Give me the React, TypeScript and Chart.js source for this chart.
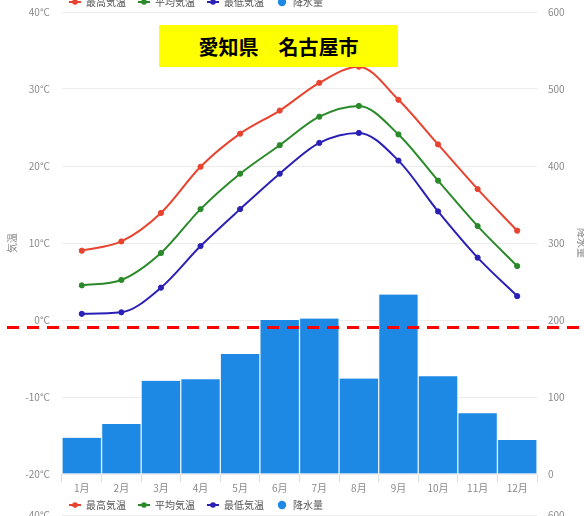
import React, { useEffect, useRef } from "react";
import { Chart, registerables } from "chart.js";

Chart.register(...registerables);

// Monthly climate normals
const months = ["1月", "2月", "3月", "4月", "5月", "6月", "7月", "8月", "9月", "10月", "11月", "12月"];
const highTemp = [9.0, 10.2, 13.9, 19.9, 24.2, 27.2, 30.8, 32.9, 28.6, 22.8, 17.0, 11.6];
const meanTemp = [4.5, 5.2, 8.7, 14.4, 19.0, 22.7, 26.4, 27.8, 24.1, 18.1, 12.2, 7.0];
const lowTemp = [0.8, 1.0, 4.2, 9.6, 14.4, 19.0, 23.0, 24.3, 20.7, 14.1, 8.1, 3.1];
const precipitation = [47, 65, 121, 123, 156, 200, 202, 124, 233, 127, 79, 44];

const seriesNames = ["最高気温", "平均気温", "最低気温", "降水量"];
const tempAxisTitle = "気温";
const rainAxisTitle = "降水量";
const tempRange = [-20, 40, 10];
const rainRange = [0, 600, 100];
const heading = "愛知県　名古屋市";

const COLORS = {
  high: "#e8432f",
  mean: "#2a8a2a",
  low: "#2b20b5",
  rain: "#1e88e5",
  tick: "#8a8a8a",
  grid: "#ececec",
  legend: "#555555",
};

const CANVAS_W = 592;
const CANVAS_H = 516;
const PANEL_STEP = 503;
const FONT = "'Noto Sans CJK JP', 'Noto Sans', sans-serif";

function lineDotIcon(color: string) {
  const c = document.createElement("canvas");
  c.width = 12;
  c.height = 8;
  const ctx = c.getContext("2d")!;
  ctx.strokeStyle = color;
  ctx.lineWidth = 2;
  ctx.beginPath();
  ctx.moveTo(0, 4);
  ctx.lineTo(12, 4);
  ctx.stroke();
  ctx.fillStyle = color;
  ctx.beginPath();
  ctx.arc(6, 4, 2.8, 0, Math.PI * 2);
  ctx.fill();
  return c;
}

function dotIcon(color: string) {
  const c = document.createElement("canvas");
  c.width = 10;
  c.height = 10;
  const ctx = c.getContext("2d")!;
  ctx.fillStyle = color;
  ctx.beginPath();
  ctx.arc(5, 5, 4.2, 0, Math.PI * 2);
  ctx.fill();
  return c;
}

// Puts the legend just under the month labels, starting near the plot's left edge
const legendPlacement = {
  id: "legendPlacement",
  afterLayout(chart: any) {
    const lg = chart.legend;
    if (!lg) return;
    const w = lg.width;
    const h = 32;
    lg.left = 57;
    lg.right = 57 + w;
    lg.top = chart.chartArea.bottom + 14;
    lg.bottom = lg.top + h;
  },
};

function buildConfig(): any {
  const icons = [lineDotIcon(COLORS.high), lineDotIcon(COLORS.mean), lineDotIcon(COLORS.low), dotIcon(COLORS.rain)];
  const lineSet = (label: string, data: number[], color: string, order: number) => ({
    type: "line",
    label,
    data,
    yAxisID: "y",
    borderColor: color,
    backgroundColor: color,
    pointBackgroundColor: color,
    pointBorderColor: color,
    borderWidth: 2,
    pointRadius: 2.6,
    pointBorderWidth: 1,
    cubicInterpolationMode: "monotone",
    fill: false,
    order,
  });
  return {
    type: "bar",
    data: {
      labels: months,
      datasets: [
        lineSet(seriesNames[0], highTemp, COLORS.high, 1),
        lineSet(seriesNames[1], meanTemp, COLORS.mean, 2),
        lineSet(seriesNames[2], lowTemp, COLORS.low, 3),
        {
          type: "bar",
          label: seriesNames[3],
          data: precipitation,
          yAxisID: "y1",
          backgroundColor: COLORS.rain,
          borderColor: "rgba(225,238,252,0.9)",
          borderWidth: { left: 1, right: 1, top: 0, bottom: 0 },
          categoryPercentage: 1,
          barPercentage: 1,
          order: 10,
        },
      ],
    },
    options: {
      responsive: false,
      animation: false,
      devicePixelRatio: 1,
      layout: { padding: { top: 12, bottom: 0, left: 0, right: 0 } },
      plugins: {
        tooltip: { enabled: false },
        legend: {
          position: "bottom",
          align: "start",
          maxHeight: 10,
          labels: {
            usePointStyle: true,
            pointStyleWidth: 12,
            padding: 12,
            color: COLORS.legend,
            font: { family: FONT, size: 10 },
            generateLabels(chart: any) {
              const items = Chart.defaults.plugins.legend.labels.generateLabels(chart);
              return items.map((it: any, i: number) => ({ ...it, pointStyle: icons[it.datasetIndex ?? i] }));
            },
          },
        },
      },
      scales: {
        x: {
          offset: true,
          border: { display: false },
          grid: {
            offset: true,
            drawOnChartArea: false,
            drawTicks: true,
            tickLength: 8,
            color: "#dedede",
          },
          ticks: { color: COLORS.tick, padding: 0, font: { family: FONT, size: 10 } },
          afterFit(axis: any) {
            axis.height = 32;
          },
        },
        y: {
          position: "left",
          min: tempRange[0],
          max: tempRange[1],
          border: { display: false },
          grid: { color: COLORS.grid, drawTicks: false },
          ticks: {
            stepSize: tempRange[2],
            padding: 12,
            color: COLORS.tick,
            font: { family: FONT, size: 10 },
            callback: (v: number) => `${v}°C`,
          },
          title: {
            display: true,
            text: tempAxisTitle,
            color: COLORS.tick,
            padding: { top: 6, bottom: 0 },
            font: { family: FONT, size: 10 },
          },
          afterFit(axis: any) {
            axis.width = 62;
            axis.paddingTop = 0;
            axis.paddingBottom = 0;
          },
        },
        y1: {
          position: "right",
          min: rainRange[0],
          max: rainRange[1],
          border: { display: false },
          grid: { drawOnChartArea: false, drawTicks: false },
          ticks: {
            stepSize: rainRange[2],
            padding: 11,
            color: COLORS.tick,
            font: { family: FONT, size: 10 },
          },
          title: {
            display: true,
            text: rainAxisTitle,
            color: COLORS.tick,
            padding: { top: 4, bottom: 0 },
            font: { family: FONT, size: 10 },
          },
          afterFit(axis: any) {
            axis.width = CANVAS_W - 537;
            axis.paddingTop = 0;
            axis.paddingBottom = 0;
          },
        },
      },
    },
    plugins: [legendPlacement],
  };
}

function ClimatePanel({ top }: { top: number }) {
  const ref = useRef<HTMLCanvasElement>(null);
  useEffect(() => {
    const chart = new Chart(ref.current!, buildConfig());
    return () => chart.destroy();
  }, []);
  return (
    <canvas
      ref={ref}
      width={CANVAS_W}
      height={CANVAS_H}
      style={{ position: "absolute", left: 0, top, width: CANVAS_W, height: CANVAS_H }}
    />
  );
}

export default function App() {
  return (
    <div
      style={{
        position: "fixed",
        left: 0,
        top: 0,
        width: 584,
        height: 516,
        overflow: "hidden",
        background: "#ffffff",
      }}
    >
      <ClimatePanel top={-PANEL_STEP} />
      <ClimatePanel top={0} />
      <ClimatePanel top={PANEL_STEP} />
      <div
        style={{
          position: "absolute",
          left: 159,
          top: 25,
          width: 239,
          height: 42,
          background: "#ffff00",
          display: "flex",
          alignItems: "center",
          justifyContent: "center",
          fontFamily: FONT,
          fontWeight: 700,
          fontSize: 20,
          color: "#000",
          whiteSpace: "pre",
        }}
      >
        {heading}
      </div>
      <div
        style={{
          position: "absolute",
          left: 7,
          top: 326,
          width: 577,
          height: 3,
          background: "repeating-linear-gradient(to right, #ff0000 0px, #ff0000 12px, transparent 12px, transparent 20px)",
        }}
      />
    </div>
  );
}
